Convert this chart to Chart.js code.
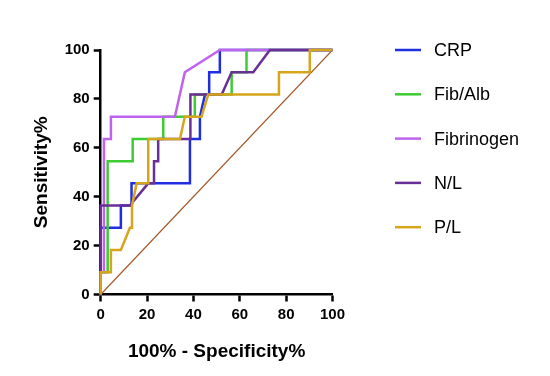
<!DOCTYPE html>
<html>
<head>
<meta charset="utf-8">
<script src="https://cdn.jsdelivr.net/npm/chart.js@4"></script>
<style>
  body { margin: 0; background: #fff; }
  #wrap { width: 550px; height: 376px; }
</style>
</head>
<body>
<div id="wrap"><canvas id="roc" width="550" height="376"></canvas></div>
<script>
// ROC curves (x = 100% - Specificity%, y = Sensitivity%)
const seriesNames = ['CRP', 'Fib/Alb', 'Fibrinogen', 'N/L', 'P/L'];
const seriesColors = ['#1f2ee0', '#3fcb35', '#bf62ee', '#6a2f96', '#d6a51c'];

const crpX = [0, 0, 8.7, 8.7, 13.3, 13.3, 38.5, 38.5, 42.8, 42.8, 45, 46.8, 46.8, 51.4, 51.4, 100];
const crpY = [0, 27.27, 27.27, 36.36, 36.36, 45.45, 45.45, 63.64, 63.64, 72.73, 81.82, 81.82, 90.91, 90.91, 100, 100];

const fibAlbX = [0, 0, 3, 3, 13.8, 13.8, 27, 27, 40.6, 40.6, 56.5, 56.5, 62.9, 62.9, 100];
const fibAlbY = [0, 9.09, 9.09, 54.55, 54.55, 63.64, 63.64, 72.73, 72.73, 81.82, 81.82, 90.91, 90.91, 100, 100];

const fibrinogenX = [0, 0, 1.4, 1.4, 4.4, 4.4, 32, 36.3, 51.4, 100];
const fibrinogenY = [0, 9.09, 9.09, 63.64, 63.64, 72.73, 72.73, 90.91, 100, 100];

const nlX = [0, 0, 12.6, 20.5, 23, 23, 24.8, 24.8, 38.7, 38.7, 52.2, 56.5, 65.8, 73, 100];
const nlY = [0, 36.36, 36.36, 45.45, 45.45, 54.55, 54.55, 63.64, 63.64, 81.82, 81.82, 90.91, 90.91, 100, 100];

const plX = [0, 0, 4.4, 4.4, 8.7, 12.6, 13.5, 13.5, 15.5, 20.5, 20.5, 34.2, 36.3, 43.5, 46.4, 76.9, 76.9, 90.2, 90.2, 100];
const plY = [0, 9.09, 9.09, 18.18, 18.18, 27.27, 27.27, 36.36, 45.45, 45.45, 63.64, 63.64, 72.73, 72.73, 81.82, 81.82, 90.91, 90.91, 100, 100];

const diagX = [0, 100];
const diagY = [0, 100];

const tickValues = [0, 20, 40, 60, 80, 100];

const FONT = '"Liberation Sans", Arial, Helvetica, sans-serif';

function toPoints(xs, ys) {
  return xs.map((x, i) => ({ x: x, y: ys[i] }));
}

const allX = [crpX, fibAlbX, fibrinogenX, nlX, plX];
const allY = [crpY, fibAlbY, fibrinogenY, nlY, plY];

const datasets = seriesNames.map((name, i) => ({
  label: name,
  data: toPoints(allX[i], allY[i]),
  borderColor: seriesColors[i],
  borderWidth: 2.5,
  pointRadius: 0,
  tension: 0,
  fill: false,
  clip: false,
  order: seriesNames.length - i
}));

datasets.push({
  label: '',
  data: toPoints(diagX, diagY),
  borderColor: '#a65a2a',
  borderWidth: 1.2,
  pointRadius: 0,
  fill: false,
  order: 10
});

// legend drawn as short lines with labels to the right of the plot
const lineLegend = {
  id: 'lineLegend',
  afterDraw(chart) {
    const ctx = chart.ctx;
    let y = 50;
    chart.data.datasets.forEach(ds => {
      if (!ds.label) return;
      ctx.save();
      ctx.strokeStyle = ds.borderColor;
      ctx.lineWidth = 2.5;
      ctx.beginPath();
      ctx.moveTo(395, y);
      ctx.lineTo(421, y);
      ctx.stroke();
      ctx.fillStyle = '#000';
      ctx.font = '18px ' + FONT;
      ctx.textBaseline = 'middle';
      ctx.fillText(ds.label, 434, y + 1);
      ctx.restore();
      y += 44.3;
    });
  }
};

function axisOpts(title, isX) {
  return {
    type: 'linear',
    min: 0,
    max: 100,
    afterBuildTicks: s => { s.ticks = tickValues.map(v => ({ value: v })); },
    afterFit: s => {
      if (isX) s.height = 81.5; else s.width = 100.7;
    },
    border: { display: true, color: '#000', width: 2.5 },
    grid: { drawOnChartArea: false, drawTicks: true, tickLength: 7, tickWidth: 2.5, tickColor: '#000' },
    ticks: { color: '#000', padding: 4, font: { family: FONT, size: 15, weight: 'bold' } },
    title: {
      display: true,
      text: title,
      color: '#000',
      font: { family: FONT, size: 19, weight: 'bold' },
      padding: isX ? { top: 0, bottom: 12.6 } : { top: 30.6, bottom: 0 }
    }
  };
}

new Chart(document.getElementById('roc'), {
  type: 'line',
  data: { datasets: datasets },
  options: {
    responsive: false,
    animation: false,
    layout: { padding: { left: 0, right: 217.5, top: 50, bottom: 0 } },
    plugins: { legend: { display: false }, tooltip: { enabled: false } },
    scales: {
      x: axisOpts('100% - Specificity%', true),
      y: axisOpts('Sensitivity%', false)
    }
  },
  plugins: [lineLegend]
});
</script>
</body>
</html>
